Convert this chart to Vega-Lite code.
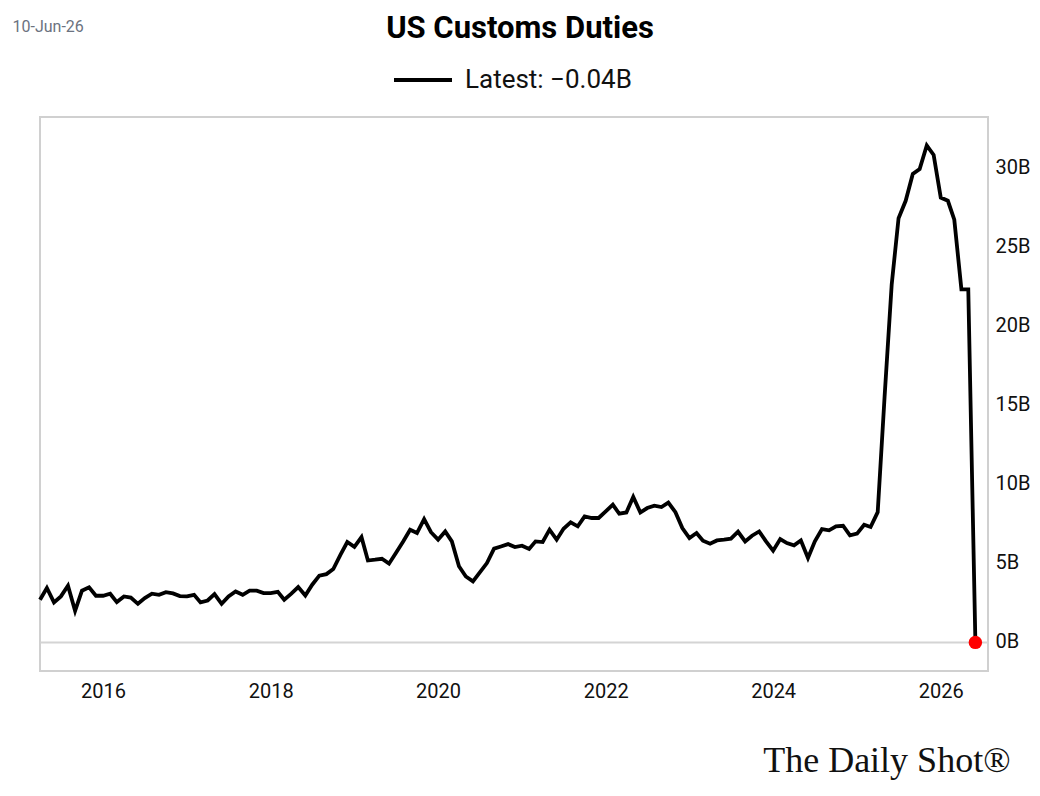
{
  "$schema": "https://vega.github.io/schema/vega-lite/v6.json",
  "width": 948,
  "height": 554,
  "autosize": {"type": "none"},
  "padding": {"left": 40, "top": 117, "right": 52, "bottom": 125},
  "background": "white",
  "title": {
    "text": "US Customs Duties",
    "frame": "group",
    "font": "Roboto",
    "fontSize": 31,
    "fontWeight": "bold",
    "color": "#000",
    "anchor": "middle",
    "offset": 0,
    "dy": 27,
    "dx": 6
  },
  "data": {
    "values": [
      {"date": "2015-04-01", "value": 2.66},
      {"date": "2015-05-01", "value": 3.4},
      {"date": "2015-06-01", "value": 2.49},
      {"date": "2015-07-01", "value": 2.87},
      {"date": "2015-08-01", "value": 3.54},
      {"date": "2015-09-01", "value": 1.96},
      {"date": "2015-10-01", "value": 3.23},
      {"date": "2015-11-01", "value": 3.44},
      {"date": "2015-12-01", "value": 2.91},
      {"date": "2016-01-01", "value": 2.91},
      {"date": "2016-02-01", "value": 3.04},
      {"date": "2016-03-01", "value": 2.51},
      {"date": "2016-04-01", "value": 2.87},
      {"date": "2016-05-01", "value": 2.8},
      {"date": "2016-06-01", "value": 2.4},
      {"date": "2016-07-01", "value": 2.76},
      {"date": "2016-08-01", "value": 3.04},
      {"date": "2016-09-01", "value": 2.97},
      {"date": "2016-10-01", "value": 3.14},
      {"date": "2016-11-01", "value": 3.06},
      {"date": "2016-12-01", "value": 2.89},
      {"date": "2017-01-01", "value": 2.87},
      {"date": "2017-02-01", "value": 2.97},
      {"date": "2017-03-01", "value": 2.49},
      {"date": "2017-04-01", "value": 2.61},
      {"date": "2017-05-01", "value": 3.02},
      {"date": "2017-06-01", "value": 2.4},
      {"date": "2017-07-01", "value": 2.87},
      {"date": "2017-08-01", "value": 3.18},
      {"date": "2017-09-01", "value": 2.97},
      {"date": "2017-10-01", "value": 3.23},
      {"date": "2017-11-01", "value": 3.23},
      {"date": "2017-12-01", "value": 3.08},
      {"date": "2018-01-01", "value": 3.08},
      {"date": "2018-02-01", "value": 3.16},
      {"date": "2018-03-01", "value": 2.66},
      {"date": "2018-04-01", "value": 3.04},
      {"date": "2018-05-01", "value": 3.46},
      {"date": "2018-06-01", "value": 2.93},
      {"date": "2018-07-01", "value": 3.61},
      {"date": "2018-08-01", "value": 4.18},
      {"date": "2018-09-01", "value": 4.28},
      {"date": "2018-10-01", "value": 4.6},
      {"date": "2018-11-01", "value": 5.5},
      {"date": "2018-12-01", "value": 6.31},
      {"date": "2019-01-01", "value": 6.0},
      {"date": "2019-02-01", "value": 6.62},
      {"date": "2019-03-01", "value": 5.14},
      {"date": "2019-04-01", "value": 5.19},
      {"date": "2019-05-01", "value": 5.25},
      {"date": "2019-06-01", "value": 4.94},
      {"date": "2019-07-01", "value": 5.62},
      {"date": "2019-08-01", "value": 6.33},
      {"date": "2019-09-01", "value": 7.09},
      {"date": "2019-10-01", "value": 6.88},
      {"date": "2019-11-01", "value": 7.76},
      {"date": "2019-12-01", "value": 6.93},
      {"date": "2020-01-01", "value": 6.46},
      {"date": "2020-02-01", "value": 6.98},
      {"date": "2020-03-01", "value": 6.35},
      {"date": "2020-04-01", "value": 4.78},
      {"date": "2020-05-01", "value": 4.13},
      {"date": "2020-06-01", "value": 3.82},
      {"date": "2020-07-01", "value": 4.39},
      {"date": "2020-08-01", "value": 4.98},
      {"date": "2020-09-01", "value": 5.89},
      {"date": "2020-10-01", "value": 6.03},
      {"date": "2020-11-01", "value": 6.18},
      {"date": "2020-12-01", "value": 5.99},
      {"date": "2021-01-01", "value": 6.08},
      {"date": "2021-02-01", "value": 5.87},
      {"date": "2021-03-01", "value": 6.35},
      {"date": "2021-04-01", "value": 6.31},
      {"date": "2021-05-01", "value": 7.09},
      {"date": "2021-06-01", "value": 6.46},
      {"date": "2021-07-01", "value": 7.15},
      {"date": "2021-08-01", "value": 7.55},
      {"date": "2021-09-01", "value": 7.3},
      {"date": "2021-10-01", "value": 7.93},
      {"date": "2021-11-01", "value": 7.83},
      {"date": "2021-12-01", "value": 7.83},
      {"date": "2022-01-01", "value": 8.25},
      {"date": "2022-02-01", "value": 8.67},
      {"date": "2022-03-01", "value": 8.1},
      {"date": "2022-04-01", "value": 8.18},
      {"date": "2022-05-01", "value": 9.16},
      {"date": "2022-06-01", "value": 8.18},
      {"date": "2022-07-01", "value": 8.46},
      {"date": "2022-08-01", "value": 8.61},
      {"date": "2022-09-01", "value": 8.52},
      {"date": "2022-10-01", "value": 8.8},
      {"date": "2022-11-01", "value": 8.2},
      {"date": "2022-12-01", "value": 7.19},
      {"date": "2023-01-01", "value": 6.56},
      {"date": "2023-02-01", "value": 6.88},
      {"date": "2023-03-01", "value": 6.39},
      {"date": "2023-04-01", "value": 6.2},
      {"date": "2023-05-01", "value": 6.41},
      {"date": "2023-06-01", "value": 6.46},
      {"date": "2023-07-01", "value": 6.52},
      {"date": "2023-08-01", "value": 6.96},
      {"date": "2023-09-01", "value": 6.35},
      {"date": "2023-10-01", "value": 6.71},
      {"date": "2023-11-01", "value": 6.98},
      {"date": "2023-12-01", "value": 6.35},
      {"date": "2024-01-01", "value": 5.76},
      {"date": "2024-02-01", "value": 6.5},
      {"date": "2024-03-01", "value": 6.24},
      {"date": "2024-04-01", "value": 6.1},
      {"date": "2024-05-01", "value": 6.41},
      {"date": "2024-06-01", "value": 5.3},
      {"date": "2024-07-01", "value": 6.35},
      {"date": "2024-08-01", "value": 7.13},
      {"date": "2024-09-01", "value": 7.05},
      {"date": "2024-10-01", "value": 7.3},
      {"date": "2024-11-01", "value": 7.34},
      {"date": "2024-12-01", "value": 6.73},
      {"date": "2025-01-01", "value": 6.84},
      {"date": "2025-02-01", "value": 7.4},
      {"date": "2025-03-01", "value": 7.26},
      {"date": "2025-04-01", "value": 8.2},
      {"date": "2025-05-01", "value": 15.5},
      {"date": "2025-06-01", "value": 22.6},
      {"date": "2025-07-01", "value": 26.8},
      {"date": "2025-08-01", "value": 27.9},
      {"date": "2025-09-01", "value": 29.6},
      {"date": "2025-10-01", "value": 29.9},
      {"date": "2025-11-01", "value": 31.4},
      {"date": "2025-12-01", "value": 30.8},
      {"date": "2026-01-01", "value": 28.1},
      {"date": "2026-02-01", "value": 27.9},
      {"date": "2026-03-01", "value": 26.7},
      {"date": "2026-04-01", "value": 22.3},
      {"date": "2026-05-01", "value": 22.3},
      {"date": "2026-06-01", "value": -0.04}
    ]
  },
  "encoding": {
    "x": {
      "field": "date",
      "type": "temporal",
      "scale": {"domain": ["2015-04-01", "2026-07-26"], "nice": false},
      "axis": {
        "values": [{"year": 2016}, {"year": 2018}, {"year": 2020}, {"year": 2022}, {"year": 2024}, {"year": 2026}],
        "format": "%Y",
        "ticks": false,
        "domain": false,
        "grid": false,
        "labelFont": "Roboto",
        "labelFontSize": 20,
        "labelColor": "#111",
        "labelPadding": 10,
        "title": "The Daily Shot®",
        "titleFont": "Liberation Serif",
        "titleFontSize": 36,
        "titleFontWeight": "normal",
        "titleColor": "#111",
        "titleAlign": "right",
        "titleBaseline": "alphabetic",
        "titleX": 970,
        "titleY": 100
      }
    },
    "y": {
      "field": "value",
      "type": "quantitative",
      "scale": {"domain": [-1.85, 33.2], "nice": false, "zero": false},
      "axis": {
        "orient": "right",
        "values": [0, 5, 10, 15, 20, 25, 30],
        "labelExpr": "datum.value + 'B'",
        "ticks": false,
        "domain": false,
        "labelFont": "Roboto",
        "labelFontSize": 20,
        "labelColor": "#111",
        "labelPadding": 7,
        "grid": true,
        "gridColor": "#d4d4d4",
        "gridWidth": 2,
        "gridOpacity": {"condition": {"test": "datum.value === 0", "value": 1}, "value": 0},
        "title": "10-Jun-26",
        "titleFont": "Roboto",
        "titleFontSize": 16,
        "titleFontWeight": "normal",
        "titleColor": "#6b7280",
        "titleAngle": 0,
        "titleAlign": "left",
        "titleBaseline": "middle",
        "titleX": -976,
        "titleY": -91
      }
    }
  },
  "layer": [
    {
      "mark": {"type": "line", "strokeWidth": 3.8},
      "encoding": {
        "color": {
          "datum": "Latest: −0.04B",
          "scale": {"range": ["#000000"]},
          "legend": {
            "orient": "none",
            "legendX": 352,
            "legendY": -68,
            "title": null,
            "symbolType": "stroke",
            "symbolSize": 3364,
            "symbolStrokeWidth": 4,
            "labelFont": "Roboto",
            "labelFontSize": 26,
            "labelLimit": 400,
            "labelColor": "#111",
            "labelOffset": 11
          }
        }
      }
    },
    {
      "transform": [{"filter": "datum.value < 0"}],
      "mark": {"type": "point", "filled": true, "color": "#ff0000", "size": 180, "opacity": 1}
    }
  ],
  "config": {
    "view": {"stroke": "#d0d0d0", "strokeWidth": 2}
  }
}
